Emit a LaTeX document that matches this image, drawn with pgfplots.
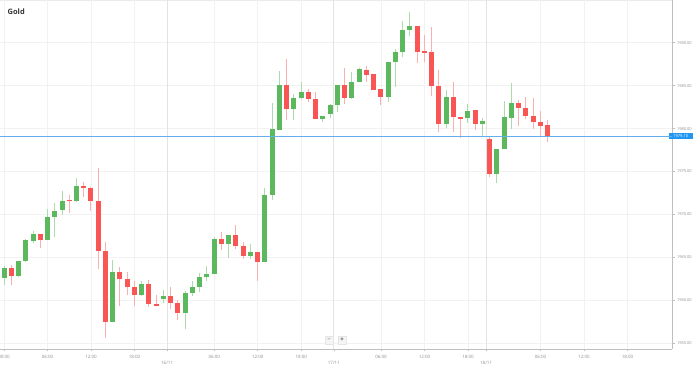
\documentclass[border=0pt]{standalone}
\usepackage{pgfplots}
\pgfplotsset{compat=1.18}
\usepackage{pgfplotstable}
\usepackage{fontspec}
\setmainfont{Open Sans}
\definecolor{upbody}{RGB}{92,184,92}
\definecolor{upwick}{RGB}{172,220,172}
\definecolor{dnbody}{RGB}{250,85,85}
\definecolor{dnwick}{RGB}{252,175,175}
\definecolor{priceline}{RGB}{100,175,235}
\definecolor{pricebox}{RGB}{33,150,243}
\definecolor{axisgray}{RGB}{190,190,190}
\definecolor{labgray}{RGB}{140,140,140}

% up candles: index open high low close
\pgfplotstableread{
x o h l c
0 1962.64 1964.00 1961.79 1963.80
2 1962.84 1964.64 1962.72 1964.58
3 1964.58 1967.14 1964.50 1967.03
4 1966.95 1968.08 1966.64 1967.69
6 1967.03 1970.60 1967.03 1969.71
7 1969.74 1971.30 1967.41 1970.44
8 1970.52 1972.70 1969.94 1971.60
10 1971.53 1974.21 1971.49 1973.31
15 1957.45 1964.70 1957.45 1963.27
19 1960.57 1962.25 1960.54 1961.87
22 1960.19 1961.21 1959.66 1960.51
25 1958.49 1961.15 1956.67 1960.89
26 1960.89 1962.28 1960.54 1961.52
27 1961.50 1963.15 1961.01 1962.72
28 1962.68 1964.00 1962.29 1963.03
29 1963.03 1967.41 1963.03 1967.11
31 1966.53 1967.64 1964.97 1967.64
34 1965.16 1966.56 1964.85 1965.67
36 1964.50 1973.12 1964.50 1972.27
37 1972.27 1982.94 1971.68 1979.92
38 1979.83 1986.70 1979.83 1985.04
40 1982.24 1983.99 1981.00 1983.60
41 1983.53 1985.46 1983.44 1984.29
44 1981.08 1981.46 1980.80 1981.46
45 1981.66 1982.86 1981.27 1982.75
46 1982.71 1985.07 1981.97 1985.07
48 1983.53 1986.62 1983.41 1985.46
49 1985.46 1987.02 1985.46 1986.90
53 1983.71 1987.79 1983.13 1987.79
54 1987.79 1989.23 1984.88 1988.88
55 1988.88 1992.56 1988.37 1991.48
56 1991.48 1993.54 1990.78 1991.98
61 1980.50 1984.49 1980.10 1983.64
64 1981.20 1982.90 1980.68 1982.08
66 1980.50 1981.27 1979.14 1980.88
68 1974.71 1977.62 1973.63 1977.62
69 1977.62 1983.21 1977.62 1981.31
70 1981.27 1985.34 1979.92 1983.01
}\up

% down candles: index open high low close
\pgfplotstableread{
x o h l c
1 1963.80 1964.12 1961.79 1962.84
5 1967.69 1967.76 1966.06 1967.03
9 1971.65 1972.30 1970.14 1971.53
11 1973.35 1973.75 1972.07 1973.08
12 1973.12 1973.23 1970.40 1971.57
13 1971.60 1975.38 1963.62 1965.78
14 1965.75 1966.76 1955.58 1957.51
16 1963.27 1963.85 1959.34 1962.45
17 1962.45 1963.27 1960.62 1961.52
18 1961.59 1962.29 1959.34 1960.59
20 1961.87 1962.37 1959.26 1959.54
21 1959.54 1960.59 1959.38 1959.40
23 1960.54 1961.52 1958.99 1959.75
24 1959.73 1960.04 1957.75 1958.49
30 1967.11 1967.92 1965.86 1966.53
32 1967.64 1968.77 1966.01 1966.33
33 1966.33 1966.83 1964.82 1965.20
35 1965.67 1965.67 1962.29 1964.50
39 1985.04 1988.10 1981.00 1982.24
42 1984.29 1984.57 1983.13 1983.44
43 1983.44 1984.22 1981.08 1981.08
47 1985.07 1987.09 1982.86 1983.53
50 1986.82 1987.32 1985.46 1986.24
51 1986.32 1986.32 1984.49 1984.49
52 1984.57 1984.57 1982.75 1983.71
57 1991.98 1991.98 1987.60 1988.95
58 1989.03 1990.90 1987.79 1988.84
59 1988.95 1991.79 1983.79 1984.96
60 1984.96 1986.82 1979.64 1980.53
62 1983.71 1985.46 1979.64 1981.31
63 1981.31 1981.31 1978.87 1981.15
65 1982.16 1982.16 1979.83 1980.50
67 1978.75 1979.14 1974.40 1974.71
71 1983.01 1983.33 1980.30 1982.43
72 1982.43 1983.64 1981.08 1981.50
73 1981.50 1983.53 1979.92 1980.80
74 1980.80 1982.05 1979.05 1980.34
75 1980.42 1981.00 1978.47 1979.10
}\down

\begin{document}
\begin{tikzpicture}
\useasboundingbox (0,0) rectangle (699bp,368bp);
\draw[black!8, line width=0.8bp] (0,367.6bp) -- (672bp,367.6bp);
\begin{axis}[
  at={(0,19bp)}, anchor=south west,
  scale only axis, width=672bp, height=349bp,
  xmin=-0.552, xmax=92.14, ymin=1954.34, ymax=1994.97,
  axis x line*=bottom, axis y line*=right,
  axis line style={draw=axisgray, line width=1bp},
  /pgf/number format/assume math mode=true,
  xtick={0,6,12,18,29,35,41,52,58,64,74,80,86},
  xticklabels={00:00,06:00,12:00,18:00,06:00,12:00,18:00,06:00,12:00,18:00,06:00,12:00,18:00},
  extra x ticks={22.5,45.5,66.5},
  extra x tick labels={16/11,17/11,18/11},
  extra x tick style={major grid style={color=black!11, line width=1bp},
     xticklabel style={yshift=-6.5bp}},
  ytick={1955,1960,...,1990},
  yticklabel style={/pgf/number format/fixed, /pgf/number format/fixed zerofill,
     /pgf/number format/precision=2, /pgf/number format/1000 sep={},
     font=\fontsize{4}{4.5}\selectfont, xshift=-1bp},
  xticklabel style={font=\fontsize{4.5}{5}\selectfont},
  ticklabel style={text=labgray},
  grid=major, major grid style={color=black!5, line width=0.7bp},
  tick align=outside, major tick length=2.5bp,
  tick style={draw=axisgray, line width=0.6bp},
  extra y ticks={1979.10}, extra y tick labels={1979.10},
  extra y tick style={ymajorgrids=false, major tick length=0pt,
     yticklabel style={fill=pricebox, text=white, inner xsep=0pt, inner ysep=1.4bp,
       minimum width=24bp, xshift=-2.5bp}},
]
% wicks
\addplot[draw=none, mark=none, forget plot, error bars/.cd, y dir=plus, y explicit,
  error mark=none, error bar style={draw=upwick, line width=1bp}]
  table[x=x, y=l, y error plus expr=\thisrow{h}-\thisrow{l}] {\up};
\addplot[draw=none, mark=none, forget plot, error bars/.cd, y dir=plus, y explicit,
  error mark=none, error bar style={draw=dnwick, line width=1bp}]
  table[x=x, y=l, y error plus expr=\thisrow{h}-\thisrow{l}] {\down};
% bodies
\addplot[draw=none, mark=none, forget plot, error bars/.cd, y dir=plus, y explicit,
  error mark=none, error bar style={draw=upbody, line width=5bp}]
  table[x=x, y=o, y error plus expr={max(\thisrow{c}-\thisrow{o},0.13)}] {\up};
\addplot[draw=none, mark=none, forget plot, error bars/.cd, y dir=plus, y explicit,
  error mark=none, error bar style={draw=dnbody, line width=5bp}]
  table[x=x, y=c, y error plus expr={max(\thisrow{o}-\thisrow{c},0.13)}] {\down};
% current price line
\addplot[priceline, line width=0.8bp, forget plot] coordinates {(-1,1979.10) (93,1979.10)};
\end{axis}
\node[anchor=west, font=\bfseries\fontsize{7.5}{9}\selectfont, text=black!80, inner sep=0pt] at (7.5bp,356bp) {Gold};
\node[draw=black!10, fill=black!4, minimum width=8bp, minimum height=8bp, inner sep=0pt,
  font=\fontsize{6}{6}\selectfont, text=black!70] at (329bp,28bp) {\textminus};
\node[draw=black!10, fill=black!4, minimum width=8bp, minimum height=8bp, inner sep=0pt,
  font=\bfseries\fontsize{6}{6}\selectfont, text=black!70] at (342bp,28bp) {+};
\end{tikzpicture}
\end{document}
